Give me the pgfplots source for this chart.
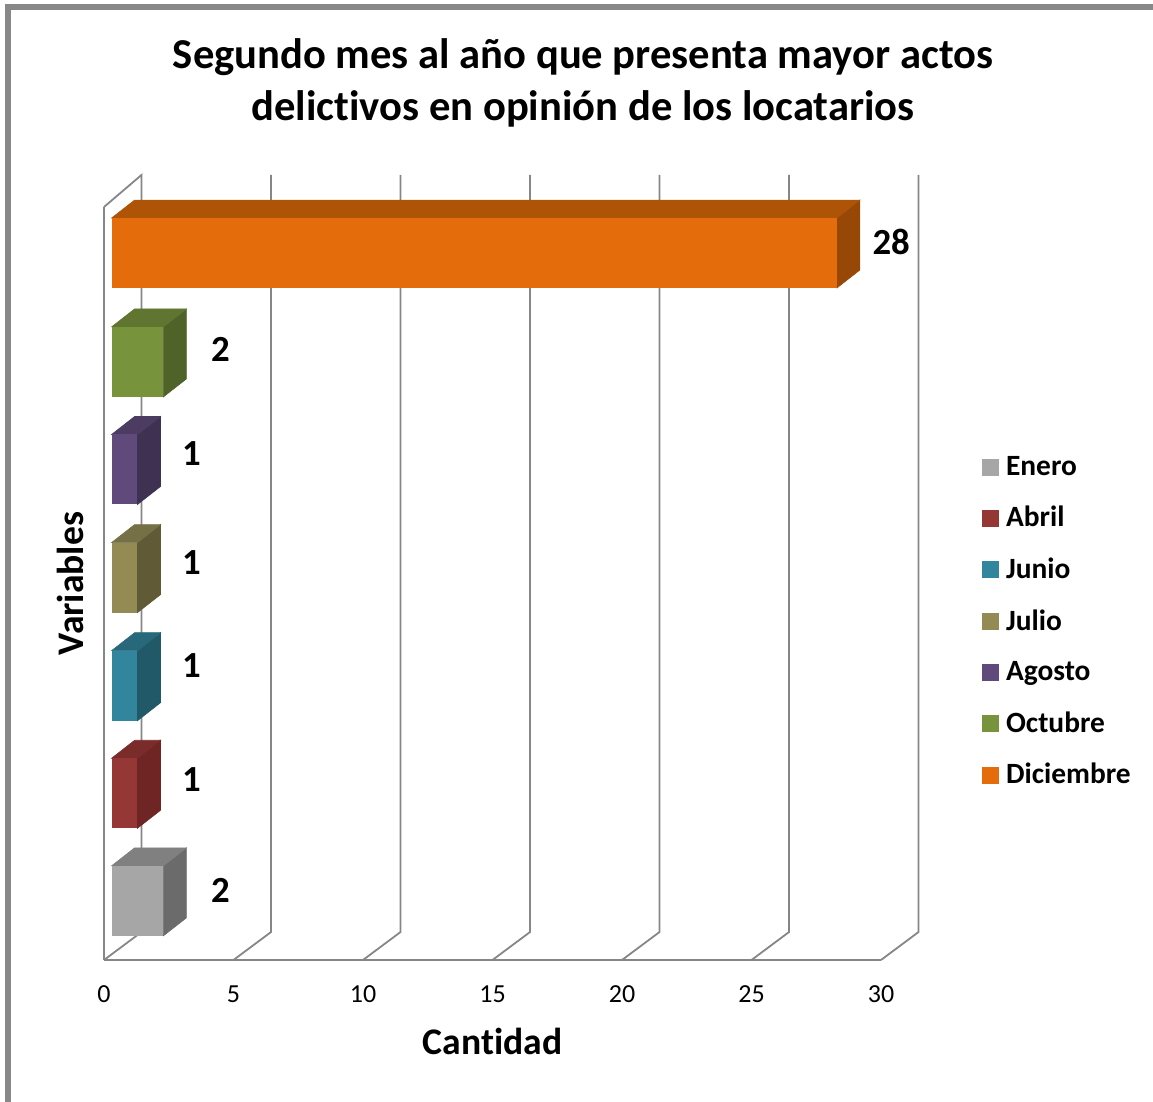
\documentclass[border=0pt]{standalone}
\usepackage{fontspec}
\setmainfont{Carlito}[Ligatures=NoCommon]
\usepackage{pgfplots}
\pgfplotsset{compat=1.18}

\definecolor{axisgray}{HTML}{868686}
\definecolor{framegray}{HTML}{888888}
\definecolor{eneF}{HTML}{A6A6A6}\definecolor{eneS}{HTML}{6B6B6B}\definecolor{eneT}{HTML}{808080}
\definecolor{abrF}{HTML}{953735}\definecolor{abrS}{HTML}{6E2523}\definecolor{abrT}{HTML}{7A2C2A}
\definecolor{junF}{HTML}{31859C}\definecolor{junS}{HTML}{215968}\definecolor{junT}{HTML}{27697B}
\definecolor{julF}{HTML}{948A54}\definecolor{julS}{HTML}{605A36}\definecolor{julT}{HTML}{767046}
\definecolor{agoF}{HTML}{604A7B}\definecolor{agoS}{HTML}{3F3151}\definecolor{agoT}{HTML}{4D3C62}
\definecolor{octF}{HTML}{77933C}\definecolor{octS}{HTML}{4F6228}\definecolor{octT}{HTML}{5F7530}
\definecolor{dicF}{HTML}{E46C0A}\definecolor{dicS}{HTML}{974806}\definecolor{dicT}{HTML}{AE5407}

\pgfplotsset{sqlegend/.style={legend image code/.code={\fill[##1,xshift=-3.8pt] (0pt,-4.25pt) rectangle (8.5pt,4.25pt);}}}

% value, row, colour prefix, label xshift, label yshift
\newcommand{\barthreed}[5]{%
  \pgfmathsetmacro\xe{#1+0.888}%
  \pgfmathsetmacro\xs{0.888}%
  \pgfmathsetmacro\ylo{#2-0.3254}%
  \pgfmathsetmacro\yhi{#2+0.3254}%
  \pgfmathsetmacro\ylb{#2-0.3254+0.167}%
  \pgfmathsetmacro\yhb{#2+0.3254+0.167}%
  \addplot[forget plot, fill=#3S, draw=#3S, line width=0.3pt, xshift=3.8pt] coordinates {(#1,\ylo) (\xe,\ylb) (\xe,\yhb) (#1,\yhi)} --cycle;
  \addplot[forget plot, fill=#3T, draw=#3T, line width=0.3pt, xshift=3.8pt] coordinates {(0,\yhi) (\xs,\yhb) (\xe,\yhb) (#1,\yhi)} --cycle;
  \addplot[xbar, bar shift=0pt, bar width=35pt, fill=#3F, draw=none, xshift=3.8pt, sqlegend,
    nodes near coords={\pgfmathprintnumber\pgfplotspointmeta},
    every node near coord/.append style={anchor=center, font=\fontsize{18.4}{20}\selectfont\bfseries, xshift=#4, yshift=#5}]
    coordinates {(#1,#2)};
}

\begin{document}
\begin{tikzpicture}
\path[use as bounding box] (0,0) rectangle (576.5pt,551pt);
\draw[framegray, line width=2.75pt] (4pt,0) -- (4pt,547.5pt) -- (576.5pt,547.5pt);
\begin{axis}[
    at={(52pt,71pt)}, anchor=south west,
    scale only axis, width=388.5pt, height=376.5pt,
    xmin=0, xmax=30, ymin=0, ymax=7,
    clip=false,
    axis x line*=bottom, axis y line*=left,
    axis line style={axisgray, line width=1pt, -},
    xtick={0,5,...,30}, ytick=\empty,
    major tick length=0pt,
    /pgf/number format/assume math mode=true,
    tick label style={font=\fontsize{13}{15}\selectfont},
    xticklabel style={yshift=-9.5pt},
    title={Segundo mes al año que presenta mayor actos\\delictivos en opinión de los locatarios},
    title style={at={(axis description cs:0.6165,1.149)}, anchor=center, align=center,
      font=\fontsize{21.3}{26}\selectfont\bfseries},
    xlabel={Cantidad}, ylabel={Variables},
    xlabel style={at={(axis description cs:0.5,-0.1076)}, anchor=center, font=\fontsize{18.8}{20}\selectfont\bfseries},
    ylabel style={at={(axis description cs:-0.0438,0.5)}, anchor=center, font=\fontsize{18.8}{20}\selectfont\bfseries},
    legend cell align=left,
    legend style={at={(axis description cs:1.1296,0.675)}, anchor=north west, draw=none, fill=none,
      row sep=10.05pt, font=\fontsize{14.7}{16}\selectfont\bfseries, inner sep=0pt,
      /tikz/every odd column/.append style={column sep=1.5pt}},
]
% paredes del fondo
\addplot[forget plot, axisgray, line width=0.9pt] coordinates {(0,7) (1.45,7.298) (1.45,0.26) (0,0)};
\addplot[forget plot, axisgray, line width=0.9pt] coordinates {(6.45,7.298) (6.45,0.26) (5,0)};
\addplot[forget plot, axisgray, line width=0.9pt] coordinates {(11.45,7.298) (11.45,0.26) (10,0)};
\addplot[forget plot, axisgray, line width=0.9pt] coordinates {(16.45,7.298) (16.45,0.26) (15,0)};
\addplot[forget plot, axisgray, line width=0.9pt] coordinates {(21.45,7.298) (21.45,0.26) (20,0)};
\addplot[forget plot, axisgray, line width=0.9pt] coordinates {(26.45,7.298) (26.45,0.26) (25,0)};
\addplot[forget plot, axisgray, line width=0.9pt] coordinates {(31.45,7.298) (31.45,0.26) (30,0)};

\barthreed{2}{0.55}{ene}{28.5pt}{5pt}
\barthreed{1}{1.55}{abr}{27pt}{7pt}
\barthreed{1}{2.55}{jun}{27pt}{10pt}
\barthreed{1}{3.555}{jul}{27pt}{7.5pt}
\barthreed{1}{4.56}{ago}{27pt}{8pt}
\barthreed{2}{5.56}{oct}{28.5pt}{6pt}
\barthreed{28}{6.572}{dic}{27.2pt}{5.5pt}

\legend{Enero,Abril,Junio,Julio,Agosto,Octubre,Diciembre}
\end{axis}
\end{tikzpicture}
\end{document}
